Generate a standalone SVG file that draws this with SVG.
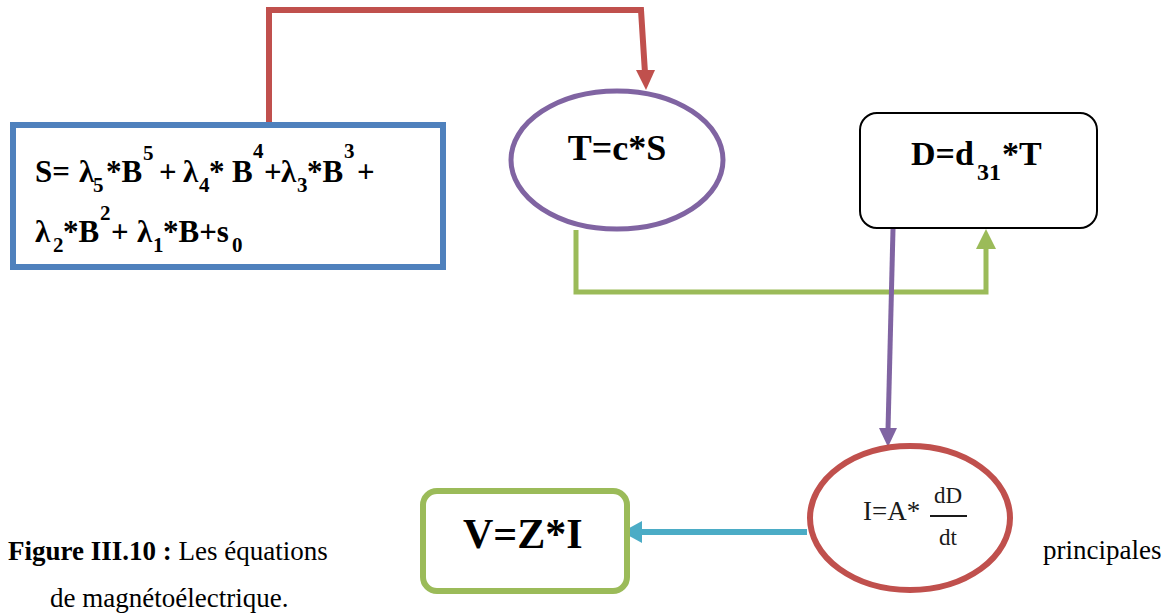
<svg xmlns="http://www.w3.org/2000/svg" width="1176" height="614" viewBox="0 0 1176 614">
<style>
.eq{font-family:"Liberation Serif","Times New Roman",serif;font-weight:bold;fill:#000}
.cap{font-family:"Liberation Serif","Times New Roman",serif;font-size:27px;fill:#000}
.math{font-family:"Liberation Serif","DejaVu Serif",serif;fill:#1a1a1a}
.conn{fill:none;stroke-linejoin:miter}
.sub{font-size:21px}
</style>
<rect width="1176" height="614" fill="#ffffff"/>
<g id="connectors">
  <path class="conn" d="M269,125 L269,10 L641,10 L645,73" stroke="#C0504D" stroke-width="6"/>
  <polygon points="646,90 636,70 655,70" fill="#C0504D"/>
  <path class="conn" d="M576,230 L576,292 L986,292 L986,247" stroke="#9BBB59" stroke-width="5"/>
  <polygon points="986,229 976,249 996,249" fill="#9BBB59"/>
  <path class="conn" d="M893,229 L888,430" stroke="#8064A2" stroke-width="5"/>
  <polygon points="888,447 879,428 897,428" fill="#8064A2"/>
  <path class="conn" d="M807,532 L640,532" stroke="#4BACC6" stroke-width="6"/>
  <polygon points="622,532 642,521 642,543" fill="#4BACC6"/>
</g>
<g id="node-S">
  <rect x="13" y="125" width="430" height="142" fill="#ffffff" stroke="#4F81BD" stroke-width="6"/>
  <text class="eq" font-size="31">
    <tspan x="35" y="182">S=</tspan><tspan x="79" y="182">λ</tspan><tspan class="sub" x="93" y="192">5</tspan><tspan x="106" y="182">*B</tspan><tspan class="sub" x="143" y="160">5</tspan><tspan x="159" y="182">+</tspan><tspan x="183" y="182">λ</tspan><tspan class="sub" x="199" y="192">4</tspan><tspan x="209" y="182">*</tspan><tspan x="232" y="182">B</tspan><tspan class="sub" x="253" y="158">4</tspan><tspan x="264" y="182">+</tspan><tspan x="281" y="182">λ</tspan><tspan class="sub" x="297" y="192">3</tspan><tspan x="307" y="182">*B</tspan><tspan class="sub" x="344" y="158">3</tspan><tspan x="357" y="182">+</tspan>
    <tspan x="35" y="242">λ</tspan><tspan class="sub" x="53" y="252">2</tspan><tspan x="63" y="242">*B</tspan><tspan class="sub" x="100" y="220">2</tspan><tspan x="111" y="242">+</tspan><tspan x="137" y="242">λ</tspan><tspan class="sub" x="153" y="252">1</tspan><tspan x="163" y="242">*B+s</tspan><tspan class="sub" x="232" y="252">0</tspan>
  </text>
</g>
<g id="node-T">
  <ellipse cx="617" cy="160" rx="106" ry="69" fill="#ffffff" stroke="#8064A2" stroke-width="5"/>
  <text class="eq" font-size="36" x="617" y="160" text-anchor="middle">T=c*S</text>
</g>
<g id="node-D">
  <rect x="860" y="113" width="237" height="115" rx="17" fill="#ffffff" stroke="#000000" stroke-width="2"/>
  <text class="eq" font-size="34"><tspan x="911" y="165">D=d</tspan><tspan x="977" y="180" font-size="24">31</tspan><tspan x="1002" y="165">*T</tspan></text>
</g>
<g id="node-I">
  <ellipse cx="910" cy="518" rx="100" ry="72" fill="#ffffff" stroke="#C0504D" stroke-width="6"/>
  <text class="math" font-size="27" x="863" y="520">I=A*</text>
  <line x1="930" y1="516" x2="967" y2="516" stroke="#1a1a1a" stroke-width="2"/>
  <text class="math" font-size="23" x="948" y="503" text-anchor="middle">dD</text>
  <text class="math" font-size="23" x="948" y="545" text-anchor="middle">dt</text>
</g>
<g id="node-V">
  <rect x="423" y="491" width="204" height="100" rx="14" fill="#ffffff" stroke="#9BBB59" stroke-width="6"/>
  <text class="eq" font-size="42" x="463" y="548">V=Z*I</text>
</g>
<g id="caption">
  <text class="cap" x="8" y="560"><tspan font-weight="bold">Figure III.10 :</tspan> Les équations</text>
  <text class="cap" x="1043" y="559">principales</text>
  <text class="cap" x="50" y="607">de magnétoélectrique.</text>
</g>
</svg>
